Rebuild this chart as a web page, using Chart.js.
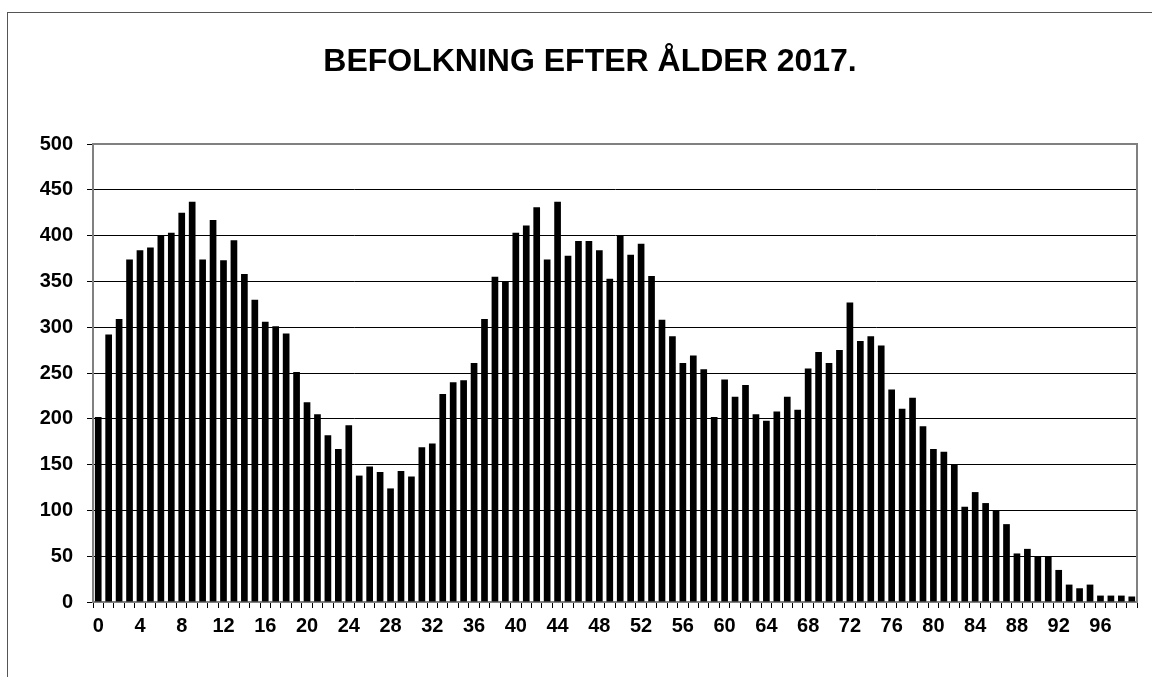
<!DOCTYPE html>
<html>
<head>
<meta charset="utf-8">
<script src="https://cdn.jsdelivr.net/npm/chart.js@4/dist/chart.umd.min.js"></script>
<style>
  html, body { margin: 0; padding: 0; background: #fff; }
  canvas { display: block; }
</style>
</head>
<body>
<canvas id="c" width="1152" height="677"></canvas>
<script>
const titleText = "BEFOLKNING EFTER ÅLDER 2017.";
const ages = [];
for (let a = 0; a <= 99; a++) ages.push(String(a));
const population = [
  202, 292, 309, 374, 384, 387, 400, 403, 425, 437,
  374, 417, 373, 395, 358, 330, 306, 301, 293, 251,
  218, 205, 182, 167, 193, 138, 148, 142, 124, 143,
  137, 169, 173, 227, 240, 242, 261, 309, 355, 350,
  403, 411, 431, 374, 437, 378, 394, 394, 384, 353,
  400, 379, 391, 356, 308, 290, 261, 269, 254, 202,
  243, 224, 237, 205, 198, 208, 224, 210, 255, 273,
  261, 275, 327, 285, 290, 280, 232, 211, 223, 192,
  167, 164, 150, 104, 120, 108, 100, 85, 53, 58,
  50, 50, 35, 19, 15, 19, 7, 7, 7, 6
];
const labelEvery = 4;
const yMin = 0, yMax = 500, yStep = 50;

const FONT = "'Liberation Sans', Arial, Helvetica, sans-serif";

const frame = {
  id: 'frame',
  beforeDraw(chart) {
    const ctx = chart.ctx;
    ctx.save();
    ctx.fillStyle = '#fff';
    ctx.fillRect(0, 0, chart.width, chart.height);
    ctx.strokeStyle = '#555';
    ctx.lineWidth = 1;
    ctx.strokeRect(7.5, 12.5, 3000, 3000);
    ctx.restore();
  },
  beforeDatasetsDraw(chart) {
    const a = chart.chartArea;
    const ctx = chart.ctx;
    ctx.save();
    ctx.strokeStyle = '#808080';
    ctx.lineWidth = 2;
    ctx.strokeRect(a.left, a.top, a.right - a.left, a.bottom - a.top);
    ctx.restore();
  },
  afterDraw(chart) {
    const ctx = chart.ctx;
    ctx.save();
    ctx.fillStyle = '#000';
    ctx.font = "bold 32px " + FONT;
    ctx.textAlign = 'center';
    ctx.textBaseline = 'middle';
    ctx.fillText(titleText, 590, 62);
    ctx.restore();
  }
};

new Chart(document.getElementById('c'), {
  type: 'bar',
  data: {
    labels: ages,
    datasets: [{
      data: population,
      backgroundColor: '#000',
      borderWidth: 0,
      categoryPercentage: 1.0,
      barPercentage: 0.64
    }]
  },
  options: {
    responsive: false,
    animation: false,
    devicePixelRatio: 1,
    layout: { padding: { left: 20, right: 15, top: 144, bottom: 35 } },
    plugins: {
      legend: { display: false },
      tooltip: { enabled: false },
      title: { display: false }
    },
    scales: {
      x: {
        grid: {
          display: true,
          drawOnChartArea: false,
          drawTicks: true,
          tickLength: 6,
          color: '#000',
          offset: true
        },
        border: { display: true, color: '#000', width: 1 },
        ticks: {
          autoSkip: false,
          maxRotation: 0,
          minRotation: 0,
          padding: 6,
          color: '#000',
          font: { family: FONT, size: 20, weight: 'bold' },
          callback: function (value, index) {
            return index % labelEvery === 0 ? this.getLabelForValue(value) : '';
          }
        },
        afterFit(scale) { scale.height = 40; }
      },
      y: {
        min: yMin,
        max: yMax,
        grid: {
          display: true,
          drawOnChartArea: true,
          drawTicks: true,
          tickLength: 6,
          color: '#000',
          lineWidth: 1
        },
        border: { display: true, color: '#808080', width: 2 },
        ticks: {
          stepSize: yStep,
          padding: 14,
          color: '#000',
          font: { family: FONT, size: 20, weight: 'bold' }
        },
        afterFit(scale) { scale.width = 73; }
      }
    }
  },
  plugins: [frame]
});
</script>
</body>
</html>
